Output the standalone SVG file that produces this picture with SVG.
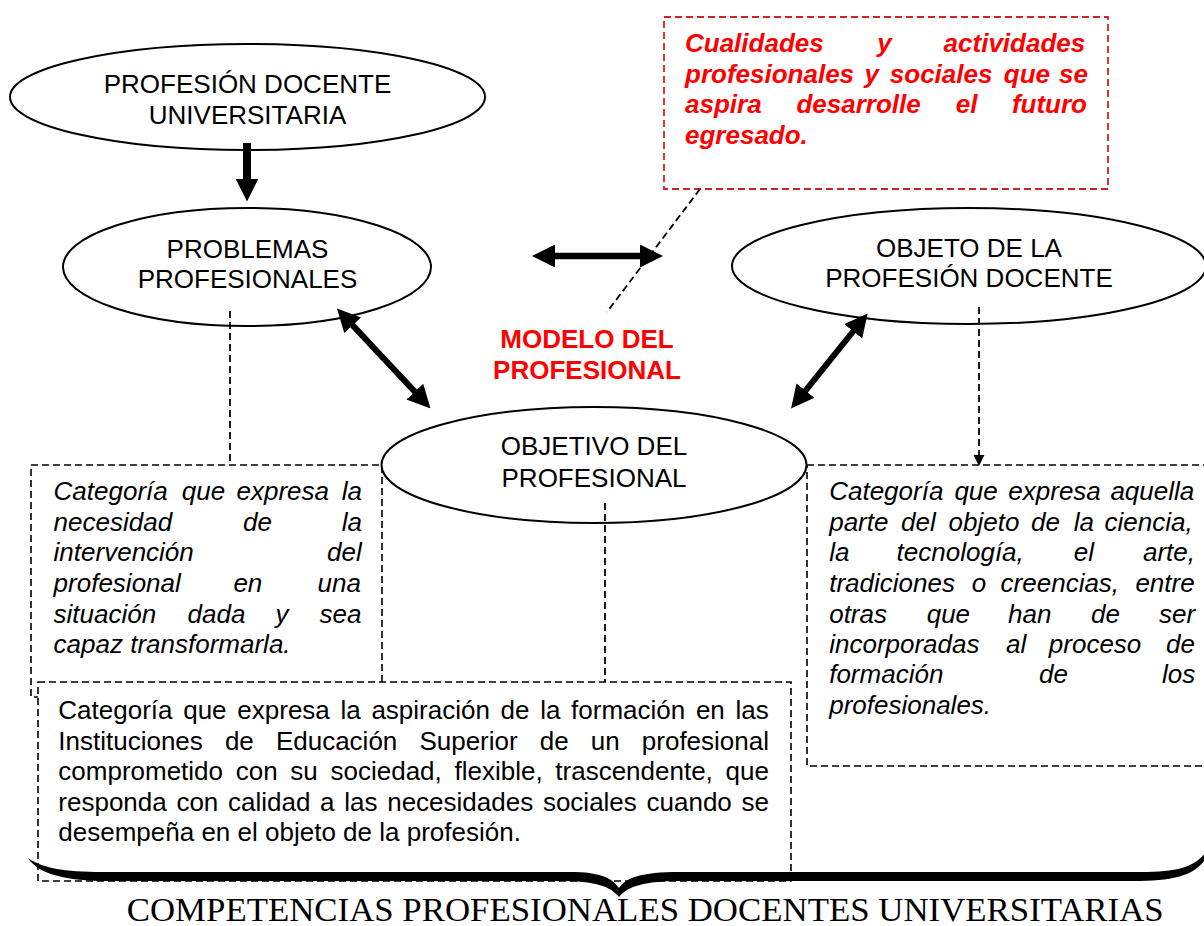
<svg xmlns="http://www.w3.org/2000/svg" width="1204" height="926" viewBox="0 0 1204 926">
<style>
.ell{fill:#fff;stroke:#000;stroke-width:2}
.t{font-family:"Liberation Sans",Arial,sans-serif;font-size:26px;fill:#000}
.c{text-anchor:middle}
.i{font-style:italic}
.rb{fill:#ff0000;font-weight:bold}
.box{fill:#fff;stroke:#000;stroke-width:1.6;stroke-dasharray:7 4}
.rbox{fill:#fff;stroke:#d42020;stroke-width:1.8;stroke-dasharray:7 4}
.dash{fill:none;stroke:#000;stroke-width:1.8;stroke-dasharray:7 4}
.thick{fill:none;stroke:#000}
.title{font-family:"Liberation Serif","Times New Roman",serif;font-size:33px;fill:#000}
</style>
<defs>
<marker id="big" markerUnits="userSpaceOnUse" markerWidth="23" markerHeight="23" viewBox="0 0 10 10" refX="4" refY="5" orient="auto-start-reverse">
<path d="M0,0 L10,5 L0,10 Z" fill="#000"/>
</marker>
<marker id="small" markerUnits="userSpaceOnUse" markerWidth="11" markerHeight="15" viewBox="0 0 10 10" refX="1" refY="5" orient="auto">
<path d="M0,0 L10,5 L0,10 Z" fill="#000"/>
</marker>
</defs>
<rect width="1204" height="926" fill="#fff"/>

<g id="box-problemas">
<rect class="box" x="31" y="465" width="351" height="232"/>
<text class="t i" y="500"><tspan x="53.6">Categoría</tspan><tspan x="181.8">que</tspan><tspan x="236.5">expresa</tspan><tspan x="341.7">la</tspan></text>
<text class="t i" y="530.5"><tspan x="53.6">necesidad</tspan><tspan x="243">de</tspan><tspan x="341.7">la</tspan></text>
<text class="t i" y="561"><tspan x="53.6">intervención</tspan><tspan x="327">del</tspan></text>
<text class="t i" y="591.5"><tspan x="53.6">profesional</tspan><tspan x="233.4">en</tspan><tspan x="317.6">una</tspan></text>
<text class="t i" y="622.5"><tspan x="53.6">situación</tspan><tspan x="187.5">dada</tspan><tspan x="275.5">y</tspan><tspan x="319.6">sea</tspan></text>
<text class="t i" x="53.6" y="652.5">capaz transformarla.</text>
</g>

<g id="box-objetivo">
<rect class="box" x="38" y="682" width="753" height="199"/>
<text class="t" y="719"><tspan x="58.3">Categoría</tspan><tspan x="183.2">que</tspan><tspan x="237.3">expresa</tspan><tspan x="340.5">la</tspan><tspan x="371.4">aspiración</tspan><tspan x="500.6">de</tspan><tspan x="540.2">la</tspan><tspan x="571.1">formación</tspan><tspan x="695.9">en</tspan><tspan x="735.5">las</tspan></text>
<text class="t" y="749.5"><tspan x="58.3">Instituciones</tspan><tspan x="224.9">de</tspan><tspan x="275.9">Educación</tspan><tspan x="419.4">Superior</tspan><tspan x="539.8">de</tspan><tspan x="590.8">un</tspan><tspan x="641.8">profesional</tspan></text>
<text class="t" y="780"><tspan x="58.3">comprometido</tspan><tspan x="235.7">con</tspan><tspan x="290.3">su</tspan><tspan x="330.5">sociedad,</tspan><tspan x="454.5">flexible,</tspan><tspan x="555.3">trascendente,</tspan><tspan x="725.5">que</tspan></text>
<text class="t" y="810.5"><tspan x="58.3">responda</tspan><tspan x="176.4">con</tspan><tspan x="228">calidad</tspan><tspan x="320.1">a</tspan><tspan x="344.3">las</tspan><tspan x="387.2">necesidades</tspan><tspan x="542.9">sociales</tspan><tspan x="646.5">cuando</tspan><tspan x="741.5">se</tspan></text>
<text class="t" x="58.3" y="841">desempeña en el objeto de la profesión.</text>
</g>

<g id="box-objeto">
<rect class="box" x="807" y="465" width="410" height="301"/>
<text class="t i" y="500"><tspan x="829.2">Categoría</tspan><tspan x="954.4">que</tspan><tspan x="1008.3">expresa</tspan><tspan x="1110.4">aquella</tspan></text>
<text class="t i" y="530.5"><tspan x="829.2">parte</tspan><tspan x="901">del</tspan><tspan x="948.6">objeto</tspan><tspan x="1031">de</tspan><tspan x="1073.8">la</tspan><tspan x="1104.6">ciencia,</tspan></text>
<text class="t i" y="561"><tspan x="829.2">la</tspan><tspan x="896.6">tecnología,</tspan><tspan x="1073.8">el</tspan><tspan x="1143">arte,</tspan></text>
<text class="t i" y="591.5"><tspan x="829.2">tradiciones</tspan><tspan x="971.7">o</tspan><tspan x="1000.6">creencias,</tspan><tspan x="1135.4">entre</tspan></text>
<text class="t i" y="622.5"><tspan x="829.2">otras</tspan><tspan x="926.7">que</tspan><tspan x="1008">han</tspan><tspan x="1091">de</tspan><tspan x="1159">ser</tspan></text>
<text class="t i" y="652.5"><tspan x="829.2">incorporadas</tspan><tspan x="1006">al</tspan><tspan x="1048.8">proceso</tspan><tspan x="1166">de</tspan></text>
<text class="t i" y="683"><tspan x="829.2">formación</tspan><tspan x="1039">de</tspan><tspan x="1162">los</tspan></text>
<text class="t i" x="829.2" y="714">profesionales.</text>
</g>

<g id="box-cualidades">
<rect class="rbox" x="664" y="17" width="444" height="172"/>
<text class="t i rb" y="52"><tspan x="685">Cualidades</tspan><tspan x="877.2">y</tspan><tspan x="943.6">actividades</tspan></text>
<text class="t i rb" y="82.7"><tspan x="685">profesionales</tspan><tspan x="864.6">y</tspan><tspan x="889.8">sociales</tspan><tspan x="1003.8">que</tspan><tspan x="1059">se</tspan></text>
<text class="t i rb" y="113.3"><tspan x="685">aspira</tspan><tspan x="796.4">desarrolle</tspan><tspan x="955.8">el</tspan><tspan x="1011.9">futuro</tspan></text>
<text class="t i rb" x="685" y="144">egresado.</text>
</g>

<g id="node-profesion">
<ellipse class="ell" cx="247.5" cy="97" rx="237.5" ry="53"/>
<text class="t c" x="247.5" y="92.7">PROFESIÓN DOCENTE</text>
<text class="t c" x="247.5" y="124">UNIVERSITARIA</text>
</g>

<g id="node-problemas">
<ellipse class="ell" cx="247" cy="267" rx="184" ry="59"/>
<text class="t c" x="247.5" y="258.3">PROBLEMAS</text>
<text class="t c" x="247.5" y="287.5">PROFESIONALES</text>
</g>

<g id="node-objeto">
<ellipse class="ell" cx="969" cy="266" rx="237" ry="58"/>
<text class="t c" x="969" y="256.7">OBJETO DE LA</text>
<text class="t c" x="969" y="287.3">PROFESIÓN DOCENTE</text>
</g>

<g id="node-objetivo">
<ellipse class="ell" cx="594" cy="465" rx="212.5" ry="58"/>
<text class="t c" x="594" y="455">OBJETIVO DEL</text>
<text class="t c" x="594" y="486.7">PROFESIONAL</text>
</g>

<g id="label-modelo">
<text class="t c rb" x="587" y="348">MODELO DEL</text>
<text class="t c rb" x="587" y="379">PROFESIONAL</text>
</g>

<g id="connectors">
<line class="thick" x1="247" y1="143" x2="247" y2="187.7" stroke-width="8" marker-end="url(#big)"/>
<line class="thick" x1="545.8" y1="256" x2="649.2" y2="256" stroke-width="6.5" marker-start="url(#big)" marker-end="url(#big)"/>
<line class="thick" x1="346.4" y1="318.6" x2="421.1" y2="398.4" stroke-width="6" marker-start="url(#big)" marker-end="url(#big)"/>
<line class="thick" x1="859" y1="324.2" x2="799.7" y2="397.8" stroke-width="6" marker-start="url(#big)" marker-end="url(#big)"/>
<line class="dash" x1="700" y1="189" x2="607" y2="312"/>
<line class="dash" x1="230" y1="311" x2="230" y2="465"/>
<line class="dash" x1="605" y1="503" x2="605" y2="682"/>
<line class="dash" x1="979" y1="307" x2="979" y2="456" marker-end="url(#small)"/>
</g>

<g id="brace">
<path d="M28,858 C45,870 70,872 110,872 L570,872 C600,872 612,878 619,888 C626,878 640,872 680,872 L1140,872 C1180,872 1195,866 1206,852 L1206,858 C1198,872 1180,881 1140,881 L680,881 C645,881 628,886 619,897 C610,886 595,881 560,881 L110,881 C65,881 38,874 28,858 Z" fill="#000"/>
</g>

<text class="title" x="126.7" y="921" textLength="1037" lengthAdjust="spacingAndGlyphs">COMPETENCIAS PROFESIONALES DOCENTES UNIVERSITARIAS</text>
</svg>
